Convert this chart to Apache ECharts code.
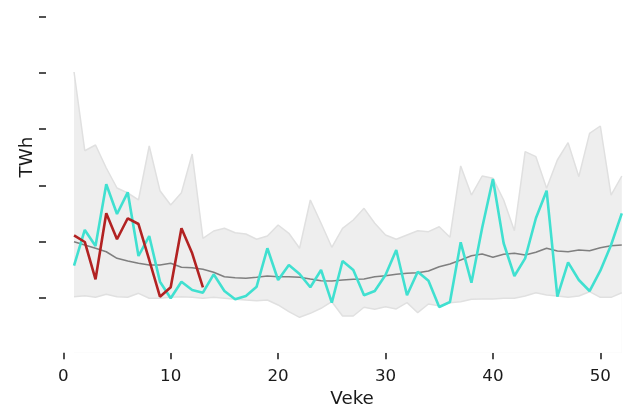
<!DOCTYPE html>
<html>
<head>
<meta charset="utf-8">
<script src="https://cdn.jsdelivr.net/npm/echarts@6/dist/echarts.min.js"></script>
<style>
  html, body { margin: 0; padding: 0; background: #ffffff; }
  #chart { width: 623px; height: 409px; }
</style>
</head>
<body>
<div id="chart"></div>
<script>
const weeks = [1,2,3,4,5,6,7,8,9,10,11,12,13,14,15,16,17,18,19,20,21,22,23,24,25,26,
  27,28,29,30,31,32,33,34,35,36,37,38,39,40,41,42,43,44,45,46,47,48,49,50,51,52];
const xTicks = [0, 10, 20, 30, 40, 50];
const yTicks = [0, 1, 2, 3, 4, 5];

// historical min / max band
const bandMin = [0.023,0.041,0.012,0.066,0.023,0.012,0.083,-0.005,-0.005,0.012,0.023,0.012,-0.005,
  0.012,-0.005,-0.023,-0.036,-0.048,-0.036,-0.124,-0.243,-0.343,-0.272,-0.183,-0.066,-0.320,
  -0.320,-0.165,-0.201,-0.155,-0.195,-0.083,-0.261,-0.107,-0.140,-0.083,-0.066,-0.023,-0.018,
  -0.018,-0.005,-0.005,0.036,0.094,0.053,0.036,0.012,0.036,0.112,0.012,0.012,0.094];
const bandMax = [4.014,2.616,2.718,2.309,1.954,1.865,1.741,2.700,1.906,1.652,1.870,2.558,1.060,
  1.190,1.238,1.160,1.137,1.043,1.101,1.297,1.149,0.883,1.741,1.327,0.901,1.238,
  1.385,1.593,1.327,1.119,1.043,1.119,1.195,1.178,1.266,1.078,2.345,1.829,2.167,
  2.126,1.741,1.195,2.599,2.510,1.948,2.451,2.758,2.155,2.925,3.055,1.829,2.167];
// historical median
const median = [1.000,0.941,0.883,0.822,0.705,0.657,0.616,0.586,0.586,0.616,0.545,0.538,0.510,
  0.456,0.378,0.361,0.350,0.368,0.391,0.378,0.378,0.368,0.337,0.307,0.302,0.320,
  0.332,0.337,0.378,0.396,0.421,0.439,0.449,0.480,0.556,0.604,0.675,0.751,0.782,
  0.723,0.776,0.794,0.764,0.812,0.883,0.835,0.822,0.853,0.840,0.893,0.929,0.941];
// previous year (turquoise)
const lastYear = [0.574,1.208,0.924,2.020,1.492,1.877,0.746,1.101,0.290,-0.005,0.290,0.142,0.094,
  0.421,0.124,-0.023,0.036,0.201,0.883,0.320,0.586,0.426,0.190,0.497,-0.083,0.657,
  0.497,0.048,0.124,0.409,0.853,0.048,0.467,0.307,-0.160,-0.071,0.989,0.272,1.249,
  2.114,0.972,0.391,0.705,1.416,1.906,0.023,0.634,0.320,0.124,0.485,0.941,1.504];
// current year (red)
const thisYear = [1.114,0.995,0.332,1.504,1.043,1.416,1.314,0.675,0.023,0.190,1.238,0.794,0.190];

const pairs = (vals) => vals.map((v, i) => [weeks[i], v]);

const tickColor = '#262626';
const font = 'DejaVu Sans';

const chart = echarts.init(document.getElementById('chart'), null, { renderer: 'canvas' });
chart.setOption({
  animation: false,
  backgroundColor: '#ffffff',
  grid: { left: 63.3, right: 1.2, top: 16.5, bottom: 56.3, containLabel: false, outerBoundsMode: 'none' },
  xAxis: {
    type: 'value',
    min: 0,
    max: 52,
    interval: 10,
    name: 'Veke',
    nameLocation: 'middle',
    nameGap: 38,
    nameTextStyle: { fontFamily: font, fontSize: 18.3, color: '#1a1a1a', padding: [0, 0, 0, 19] },
    axisLine: { show: false, onZero: false },
    splitLine: { show: false },
    axisTick: { show: true, length: 6.5, lineStyle: { color: tickColor, width: 1.6 }, customValues: xTicks },
    axisLabel: { show: true, margin: 15, fontFamily: font, fontSize: 16.7, color: '#1a1a1a', customValues: xTicks }
  },
  yAxis: {
    type: 'value',
    min: -0.9716,
    max: 5,
    offset: 17.3,
    name: 'TWh',
    nameLocation: 'middle',
    nameRotate: 90,
    nameGap: 10,
    nameTextStyle: { fontFamily: font, fontSize: 18.3, color: '#1a1a1a', padding: [0, 0, 0, 55] },
    axisLine: { show: false, onZero: false },
    splitLine: { show: false },
    axisTick: { show: true, length: 7, lineStyle: { color: tickColor, width: 1.6 }, customValues: yTicks },
    axisLabel: { show: false }
  },
  series: [
    {
      // upper edge of the band, filled down to the axis bottom
      type: 'line', name: 'max', data: pairs(bandMax),
      symbol: 'none', lineStyle: { color: '#e0e0e0', width: 1.5 },
      areaStyle: { color: '#eeeeee', opacity: 1, origin: 'start' }, z: 1, silent: true
    },
    {
      // lower edge of the band; white fill below it clears the band's underside
      type: 'line', name: 'min', data: pairs(bandMin),
      symbol: 'none', lineStyle: { color: '#e0e0e0', width: 1.5 },
      areaStyle: { color: '#ffffff', opacity: 1, origin: 'start' }, z: 1, silent: true
    },
    {
      type: 'line', name: 'median', data: pairs(median), symbol: 'none',
      lineStyle: { color: '#7f7f7f', width: 1.6 }, z: 2
    },
    {
      type: 'line', name: 'lastYear', data: pairs(lastYear), symbol: 'none',
      lineStyle: { color: '#40e0d0', width: 2.6 }, z: 3
    },
    {
      type: 'line', name: 'thisYear', data: pairs(thisYear), symbol: 'none',
      lineStyle: { color: '#b22222', width: 2.6 }, z: 4
    }
  ]
});
</script>
</body>
</html>
